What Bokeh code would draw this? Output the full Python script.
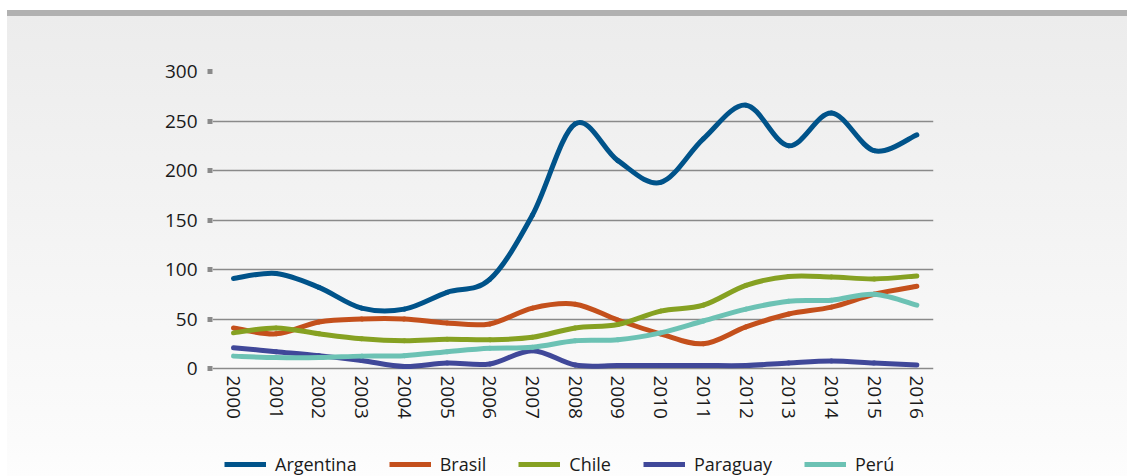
import numpy as np
from bokeh.plotting import figure
from bokeh.layouts import column
from bokeh.models import Legend, LegendItem, FixedTicker, Range1d, ColumnDataSource
from bokeh.embed import file_html
from bokeh.resources import INLINE

# ---- data ----
years = list(range(2000, 2017))
year_labels = [str(y) for y in years]
argentina = [91, 96, 82, 61, 60, 77, 90, 155, 247, 210, 188, 232, 266, 225, 258, 220, 236]
brasil = [41, 35, 47, 50, 50, 46, 45, 61, 65, 49, 35, 25, 42, 55, 62, 75, 83]
chile = [36, 41, 35, 30, 28, 29.5, 29, 31.5, 41, 44.5, 58, 64, 84, 93, 92.5, 90.5, 93.5]
paraguay = [21, 17, 13, 8, 2, 5.5, 4.5, 18, 3.5, 3, 3, 3, 3, 5.5, 7.5, 5.5, 3.5]
peru = [12.5, 11, 11, 12.5, 13, 17, 20.5, 21.5, 28, 29, 36, 48, 60, 68, 69, 75, 64]
series_names = ["Argentina", "Brasil", "Chile", "Paraguay", "Perú"]
y_ticks = [0, 50, 100, 150, 200, 250, 300]

series = [argentina, brasil, chile, paraguay, peru]
colors = ["#00538a", "#c4501c", "#86a122", "#404899", "#6cc2b4"]

FONT = "Open Sans"
TXT = "#1a1a1a"
LEFT_WHITE = "linear-gradient(to right, #ffffff 7px, rgba(255,255,255,0) 7px)"

W = 1127
H_MAIN = 440
H_LEG = 36

p = figure(width=W, height=H_MAIN, output_backend="svg", toolbar_location=None,
           x_range=Range1d(1999.508, 2016.39), y_range=Range1d(-3.03, 300))
p.min_border_left = 212
p.min_border_right = 194
p.min_border_top = 71
p.min_border_bottom = H_MAIN - 371
p.border_fill_color = None
p.background_fill_color = None
p.outline_line_color = None
p.styles = {"background": LEFT_WHITE + ", linear-gradient(to bottom, #ffffff 0px, #ffffff 10px, "
                          "#b1b1b1 10px, #b1b1b1 16px, #ececec 16px, #fbfbfb 440px)"}

# axes
p.xaxis.ticker = FixedTicker(ticks=years)
p.xaxis.major_label_overrides = {y: l for y, l in zip(years, year_labels)}
p.xaxis.major_label_orientation = "vertical"
p.xaxis.axis_line_color = None
p.xaxis.major_tick_line_color = None
p.xaxis.minor_tick_line_color = None
p.xaxis.major_tick_out = 0
p.xaxis.major_tick_in = 0
p.xaxis.major_label_standoff = 4
p.xaxis.major_label_text_font = FONT
p.xaxis.major_label_text_font_size = "19px"
p.xaxis.major_label_text_color = TXT

p.yaxis.ticker = FixedTicker(ticks=y_ticks)
p.yaxis.axis_line_color = None
p.yaxis.minor_tick_line_color = None
p.yaxis.major_tick_line_color = "#8a8a8a"
p.yaxis.major_tick_line_width = 5
p.yaxis.major_tick_out = 5
p.yaxis.major_tick_in = 0
p.yaxis.major_label_standoff = 10
p.yaxis.major_label_text_font = FONT
p.yaxis.major_label_text_font_size = "19px"
p.yaxis.major_label_text_color = TXT

p.xgrid.grid_line_color = None
p.ygrid.grid_line_color = "#8a8a8a"
p.ygrid.grid_line_width = 1.3

# legend strip (separate small canvas below the chart; its ranges keep the proxy lines out of view)
pl = figure(width=W, height=H_LEG, output_backend="svg", toolbar_location=None,
            x_axis_type=None, y_axis_type=None, x_range=Range1d(0, 1), y_range=Range1d(-2000, -1000))
pl.min_border = 0
pl.border_fill_color = None
pl.background_fill_color = None
pl.outline_line_color = None
pl.xgrid.visible = False
pl.ygrid.visible = False
pl.styles = {"background": LEFT_WHITE + ", linear-gradient(to bottom, #fbfbfb 0px, #fdfdfd 36px)"}

# smooth lines drawn as cubic bezier segments (Catmull-Rom control points)
xs = np.array(years, dtype=float)
items = []
for name, vals, col in zip(series_names, series, colors):
    y = np.array(vals, dtype=float)
    n = len(xs)
    xp = np.concatenate([[xs[0]], xs, [xs[-1]]])
    yp = np.concatenate([[y[0]], y, [y[-1]]])
    i = np.arange(n - 1)
    src = ColumnDataSource(dict(
        x0=xs[:-1], y0=y[:-1], x1=xs[1:], y1=y[1:],
        cx0=xs[:-1] + (xp[i + 2] - xp[i]) / 6.0,
        cy0=y[:-1] + (yp[i + 2] - yp[i]) / 6.0,
        cx1=xs[1:] - (xp[i + 3] - xp[i + 1]) / 6.0,
        cy1=y[1:] - (yp[i + 3] - yp[i + 1]) / 6.0,
    ))
    p.bezier(x0="x0", y0="y0", x1="x1", y1="y1", cx0="cx0", cy0="cy0", cx1="cx1", cy1="cy1",
             source=src, line_color=col, line_width=5, line_cap="round")
    r = pl.line(x=years, y=vals, line_color=col, line_width=5)
    items.append(LegendItem(label=name, renderers=[r]))

legend = Legend(items=items, orientation="horizontal", location=(12, 0),
                glyph_width=42, glyph_height=20, label_height=20, label_standoff=9, spacing=32,
                padding=0, margin=0, border_line_color=None, background_fill_alpha=0,
                label_text_font=FONT, label_text_font_size="18px", label_text_color=TXT)
pl.add_layout(legend, "center")

layout = column(p, pl, spacing=0)
open("out.html", "w").write(file_html(layout, INLINE))
